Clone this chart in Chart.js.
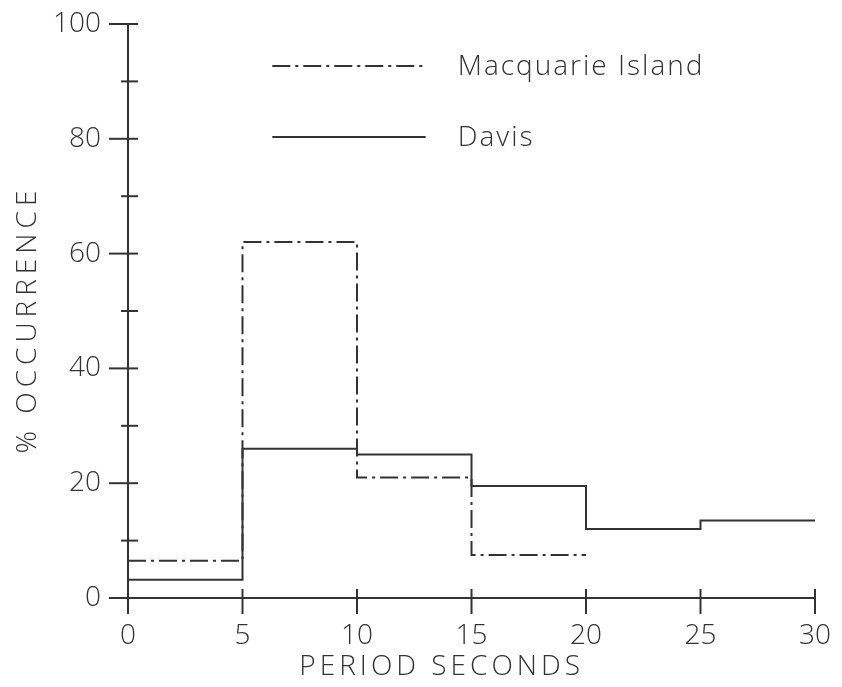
<!DOCTYPE html>
<html>
<head>
<meta charset="utf-8">
<script src="https://cdn.jsdelivr.net/npm/chart.js@4"></script>
<style>
  html, body { margin: 0; padding: 0; background: #fff; }
  #wrap { width: 842px; height: 687px; }
</style>
</head>
<body>
<div id="wrap"><canvas id="chart"></canvas></div>
<script>
// period bins (seconds) and % occurrence per bin
var periodEdges = [0, 5, 10, 15, 20, 25, 30];
var macquarieIsland = [6.5, 62, 21, 7.5];
var davis = [3.2, 26, 25, 19.5, 12, 13.5];
var xTickValues = [0, 5, 10, 15, 20, 25, 30];
var yLabelStep = 20;

var INK = "#333";
var FONT = "'Open Sans', 'DejaVu Sans', sans-serif";

// histogram steps: one point per bin edge, last value repeated at the closing edge
function stepPoints(values) {
  var pts = values.map(function (v, i) {
    return { x: periodEdges[i], y: v };
  });
  pts.push({ x: periodEdges[values.length], y: values[values.length - 1] });
  return pts;
}

var series = [
  { label: "Macquarie Island", values: macquarieIsland, dash: [18, 5, 3, 5] },
  { label: "Davis", values: davis, dash: [] },
];

// ticks crossing the axes, titles and the in-plot legend
var drawExtras = {
  id: "drawExtras",
  afterDraw: function (chart) {
    var ctx = chart.ctx;
    var xs = chart.scales.x;
    var ys = chart.scales.y;
    var area = chart.chartArea;
    ctx.save();
    ctx.strokeStyle = INK;
    ctx.lineWidth = 2;
    ys.ticks.forEach(function (t) {
      var py = ys.getPixelForValue(t.value);
      var left = t.value % yLabelStep === 0 ? 19 : 7;
      ctx.beginPath();
      ctx.moveTo(area.left - left, py);
      ctx.lineTo(area.left + 10, py);
      ctx.stroke();
    });
    xs.ticks.forEach(function (t) {
      var px = xs.getPixelForValue(t.value);
      ctx.beginPath();
      ctx.moveTo(px, area.bottom - 9);
      ctx.lineTo(px, area.bottom + 16);
      ctx.stroke();
    });

    // axis titles
    ctx.fillStyle = INK;
    ctx.font = "300 28px " + FONT;
    ctx.letterSpacing = "4px";
    ctx.textAlign = "center";
    ctx.textBaseline = "middle";
    ctx.fillText("PERIOD SECONDS", xs.getPixelForValue(13.7), 667);
    ctx.save();
    ctx.translate(28, ys.getPixelForValue(48.5));
    ctx.rotate(-Math.PI / 2);
    ctx.letterSpacing = "5px";
    ctx.fillText("% OCCURRENCE", 0, 0);
    ctx.restore();

    // legend
    var legendY = [92.7, 80.3];
    ctx.font = "300 28px " + FONT;
    ctx.letterSpacing = "2px";
    ctx.textAlign = "left";
    series.forEach(function (s, i) {
      var py = ys.getPixelForValue(legendY[i]);
      ctx.setLineDash(s.dash);
      ctx.beginPath();
      ctx.moveTo(xs.getPixelForValue(6.3), py);
      ctx.lineTo(xs.getPixelForValue(13.0), py);
      ctx.stroke();
      ctx.setLineDash([]);
      ctx.fillText(s.label, xs.getPixelForValue(14.4), py + 1);
    });
    ctx.letterSpacing = "0px";
    ctx.restore();
  },
};

new Chart(document.getElementById("chart").getContext("2d"), {
  type: "line",
  data: {
    datasets: series.map(function (s) {
      return {
        label: s.label,
        data: stepPoints(s.values),
        stepped: "before",
        borderColor: INK,
        borderWidth: 2,
        borderDash: s.dash,
        pointRadius: 0,
        fill: false,
      };
    }),
  },
  options: {
    responsive: true,
    maintainAspectRatio: false,
    animation: false,
    devicePixelRatio: 1,
    layout: { padding: { top: 24, right: 27, left: 0, bottom: 0 } },
    scales: {
      x: {
        type: "linear",
        min: 0,
        max: 30,
        afterBuildTicks: function (scale) {
          scale.ticks = xTickValues.map(function (v) {
            return { value: v };
          });
        },
        afterFit: function (scale) {
          scale.height = 89;
          scale.paddingLeft = 0;
          scale.paddingRight = 0;
        },
        grid: { display: false, drawTicks: false },
        border: { display: true, color: INK, width: 2 },
        ticks: {
          color: INK,
          padding: 21,
          maxRotation: 0,
          font: { family: FONT, size: 28, weight: "300" },
        },
      },
      y: {
        min: 0,
        max: 100,
        afterFit: function (scale) {
          scale.width = 128;
          scale.paddingTop = 0;
          scale.paddingBottom = 0;
        },
        grid: { display: false, drawTicks: false },
        border: { display: true, color: INK, width: 2 },
        ticks: {
          stepSize: 10,
          color: INK,
          padding: 27,
          font: { family: FONT, size: 28, weight: "300" },
          callback: function (v) {
            return v % yLabelStep === 0 ? v : "";
          },
        },
      },
    },
    plugins: {
      legend: { display: false },
      tooltip: { enabled: false },
    },
  },
  plugins: [drawExtras],
});
</script>
</body>
</html>
